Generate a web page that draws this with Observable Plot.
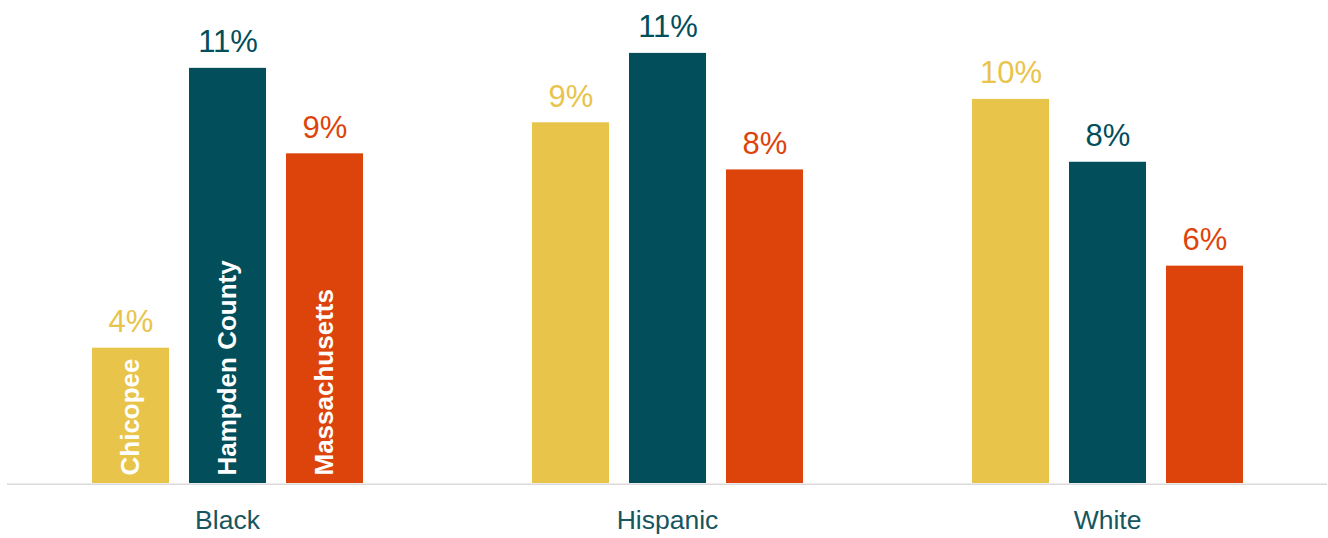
<!DOCTYPE html>
<html>
<head>
<meta charset="utf-8">
<script src="https://cdn.jsdelivr.net/npm/d3@7"></script>
<script src="https://cdn.jsdelivr.net/npm/@observablehq/plot@0.6"></script>
<style>
  html, body { margin: 0; padding: 0; background: #fff; }
</style>
</head>
<body>
<div id="chart"></div>
<script>
const groups = ["Black", "Hispanic", "White"];
const series = ["Chicopee", "Hampden County", "Massachusetts"];
const chicopee = [3.53, 9.41, 10.02];
const hampden = [10.83, 11.22, 8.38];
const massachusetts = [8.60, 8.18, 5.67];
const colors = ["#E8C44A", "#024E5A", "#DD440B"];

const valuesBySeries = [chicopee, hampden, massachusetts];
const data = [];
groups.forEach((g, gi) => {
  series.forEach((s, si) => {
    data.push({group: g, series: s, value: valuesBySeries[si][gi]});
  });
});

const chart = Plot.plot({
  width: 1328,
  height: 538,
  marginTop: 23,
  marginBottom: 55,
  marginLeft: 7,
  marginRight: 1,
  style: {fontFamily: "'Liberation Sans', Arial, sans-serif", background: "white"},
  fx: {domain: groups, padding: 0, label: null},
  x: {domain: series, paddingInner: 0.21, paddingOuter: 0.86, axis: null},
  y: {domain: [0, 12], axis: null},
  color: {domain: series, range: colors},
  marks: [
    Plot.barY(data, {fx: "group", x: "series", y: "value", fill: "series"}),
    Plot.ruleY([0], {stroke: "#D9D9D9", strokeWidth: 1.5, dy: 0.75}),
    Plot.text(data, {
      fx: "group", x: "series", y: "value",
      text: d => Math.round(d.value) + "%",
      fill: "series", fontSize: 31, lineAnchor: "bottom", dy: -16
    }),
    Plot.text(data.filter(d => d.group === "Black"), {
      fx: "group", x: "series", y: () => 0,
      text: "series", rotate: -90, textAnchor: "start",
      fill: "white", fontWeight: "bold", fontSize: 26, dy: -8
    }),
    Plot.axisFx({anchor: "bottom", tickSize: 0, tickPadding: 27, fontSize: 26.5, fill: "#175560", label: null})
  ]
});
document.getElementById("chart").appendChild(chart);
</script>
</body>
</html>
